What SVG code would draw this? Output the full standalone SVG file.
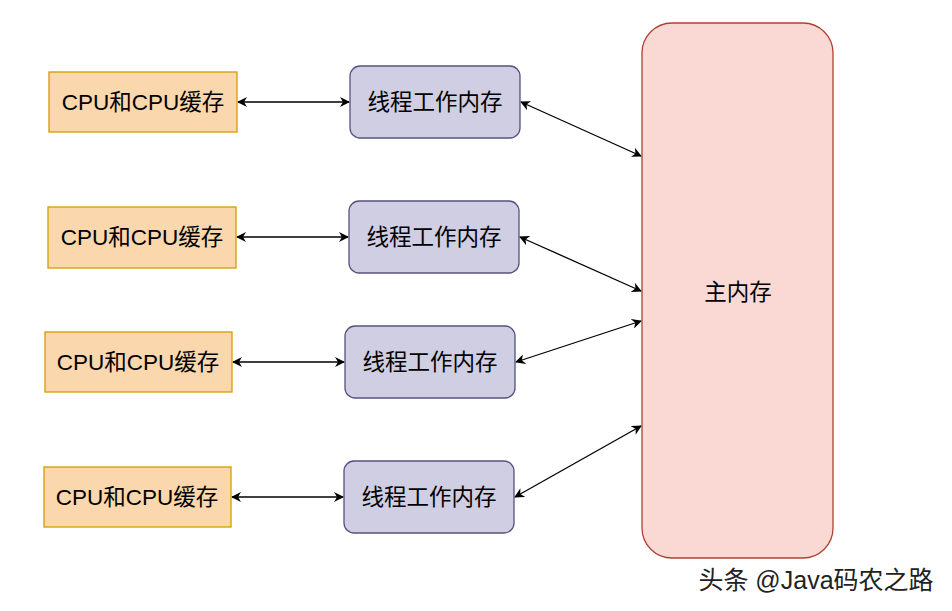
<svg xmlns="http://www.w3.org/2000/svg" width="952" height="611" viewBox="0 0 952 611">
<style>
text{font-family:"Liberation Sans","Noto Sans CJK SC",sans-serif;font-size:22.5px;fill:#000;text-anchor:middle;dominant-baseline:central}
.cpu{fill:#fad7ac;stroke:#d79b00;stroke-width:1.3}
.thr{fill:#d0cee2;stroke:#56517e;stroke-width:1.3}
.main{fill:#fad9d5;stroke:#ae4132;stroke-width:1.3}
.c{stroke:#000;stroke-width:1.3;fill:none;marker-start:url(#a);marker-end:url(#a)}
</style>
<defs>
<marker id="a" viewBox="0 0 10 10" refX="9" refY="5" markerWidth="10" markerHeight="10" markerUnits="userSpaceOnUse" orient="auto-start-reverse">
<path d="M0,0 L10,5 L0,10 L3,5 Z" fill="#000"/>
</marker>
</defs>
<rect width="952" height="611" fill="#fff"/>
<g id="connectors">
<line class="c" x1="238" y1="102" x2="349" y2="102"/>
<line class="c" x1="237" y1="237" x2="348" y2="237"/>
<line class="c" x1="233" y1="362" x2="344" y2="362"/>
<line class="c" x1="232" y1="497" x2="343" y2="497"/>
<line class="c" x1="521" y1="102" x2="641" y2="156"/>
<line class="c" x1="520" y1="237" x2="641" y2="291"/>
<line class="c" x1="516" y1="362" x2="641" y2="321"/>
<line class="c" x1="515" y1="497" x2="641" y2="426"/>
</g>
<g id="main"><rect class="main" x="642" y="23" width="191" height="535" rx="30"/><text x="738" y="292">主内存</text></g>
<g id="cpu1"><rect class="cpu" x="49" y="72" width="188" height="60"/><text x="143" y="102">CPU和CPU缓存</text></g>
<g id="cpu2"><rect class="cpu" x="48" y="207" width="188" height="61"/><text x="142" y="237">CPU和CPU缓存</text></g>
<g id="cpu3"><rect class="cpu" x="45" y="332" width="187" height="60"/><text x="138" y="362">CPU和CPU缓存</text></g>
<g id="cpu4"><rect class="cpu" x="44" y="467" width="187" height="60"/><text x="137" y="497">CPU和CPU缓存</text></g>
<g id="thr1"><rect class="thr" x="350" y="66" width="170" height="72" rx="10"/><text x="435" y="102">线程工作内存</text></g>
<g id="thr2"><rect class="thr" x="349" y="201" width="170" height="72" rx="10"/><text x="434" y="237">线程工作内存</text></g>
<g id="thr3"><rect class="thr" x="345" y="326" width="170" height="72" rx="10"/><text x="430" y="362">线程工作内存</text></g>
<g id="thr4"><rect class="thr" x="344" y="461" width="170" height="72" rx="10"/><text x="429" y="497">线程工作内存</text></g>
<text x="816" y="580" style="font-size:25px;fill:#222">头条 @Java码农之路</text>
</svg>
